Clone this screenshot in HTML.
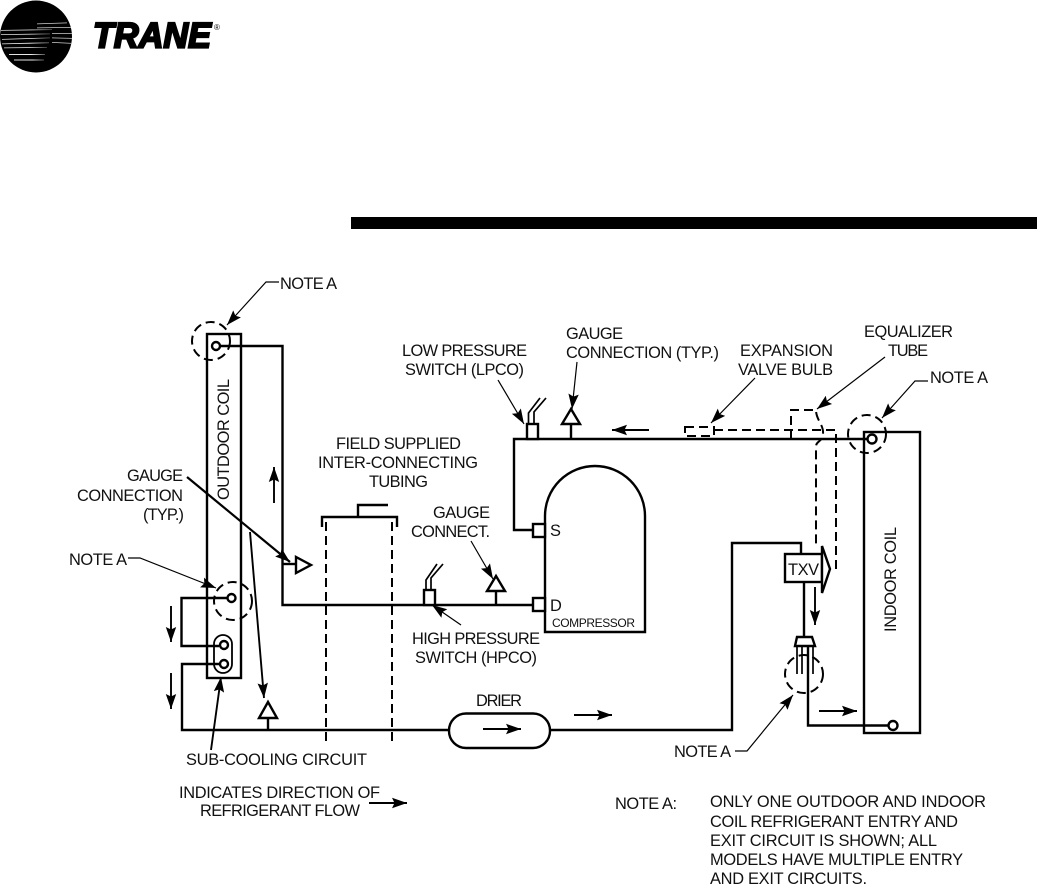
<!DOCTYPE html>
<html><head><meta charset="utf-8"><style>
html,body{margin:0;padding:0;background:#fff}
svg{display:block}
text{font-family:"Liberation Sans",sans-serif;font-size:16.4px;fill:#111}
.m{fill:none;stroke:#000;stroke-width:2.4}
.t{fill:none;stroke:#000;stroke-width:1.7}
.d{fill:none;stroke:#000;stroke-width:2;stroke-dasharray:9 5}
.a{fill:none;stroke:#000;stroke-width:1.9;marker-end:url(#h)}
.l{fill:none;stroke:#000;stroke-width:1.2;marker-end:url(#h)}
.c{fill:#fff;stroke:#000;stroke-width:2.4}
</style></head><body>
<svg width="1037" height="888" viewBox="0 0 1037 888" xmlns="http://www.w3.org/2000/svg">
<defs>
<marker id="h" markerUnits="userSpaceOnUse" markerWidth="18" markerHeight="14" refX="15" refY="7" orient="auto"><path d="M0,1.800 L15,7 L0,12.200 L2.500,7z" fill="#000"/></marker>
<linearGradient id="g" x1="0" x2="1" y1="0" y2="0"><stop offset="0" stop-color="#ddd"/><stop offset=".6" stop-color="#eee"/><stop offset="1" stop-color="#555"/></linearGradient>
</defs>

<!-- logo -->
<circle cx="36" cy="36.500" r="36" fill="#000"/>
<g fill="url(#g)">
<polygon points="1,30 52,29.300 52,30 1,30.700"/>
<polygon points="1,34.300 50,33.500 50,34.200 1,35"/>
<polygon points="2,39 50,37.500 50,38.300 2,39.700"/>
<polygon points="2,43.500 49,42.300 49,43.200 2,44.300"/>
<polygon points="4,47.500 47,47 47,47.800 4,48.300"/>
<polygon points="9,54 45,54 45,55 9,55"/>
<polygon points="14,59.500 44,59.500 44,60.500 14,60.500"/>
</g>
<g fill="#ccc">
<polygon points="37,23.500 67,22.500 67,23.200 37,24.200"/>
<polygon points="37,27.500 71,27 71,27.700 37,28.200"/>
<polygon points="52,33 72,33 72,33.700 52,33.700"/>
<polygon points="52,37.500 72,38 72,38.700 52,38.200"/>
<polygon points="52,42 72,43 72,43.700 52,42.700"/>
</g>
<text x="93" y="47.500" textLength="118" lengthAdjust="spacingAndGlyphs" style="font-size:35px;font-weight:bold;font-style:italic;fill:#000;stroke:#000;stroke-width:2.2">TRANE</text>
<text x="214" y="30" style="font-size:8px;fill:#000">®</text>

<rect x="351" y="217" width="686" height="12" fill="#000"/>

<!-- outdoor coil -->
<rect x="207" y="334" width="34" height="344" class="m"/>
<path class="m" d="M220,346H282.500V605H533"/>
<circle cx="216" cy="346" r="4" class="c"/>
<circle cx="211" cy="341" r="19" class="d" stroke-dasharray="8 5"/>
<path class="m" d="M231,598H181.500V646H219"/>
<path class="m" d="M219,664H182V730H449"/>
<path class="m" d="M550,730H732V543H801V554"/>
<rect x="214" y="635" width="18" height="38" rx="9" class="m" style="stroke-width:1.8"/>
<circle cx="224" cy="645" r="4" class="c"/>
<circle cx="224" cy="664" r="4" class="c"/>
<circle cx="231.500" cy="598" r="4" class="c"/>
<circle cx="233" cy="601" r="19" class="d" stroke-dasharray="8 5"/>

<!-- gauges -->
<path class="m" d="M282.500,564H296"/>
<polygon points="296,557 296,573 311,565" class="c"/>
<path class="m" d="M268,718V730"/>
<polygon points="268,702 259,718 277,718" class="c"/>
<path class="m" d="M496,591V605"/>
<polygon points="496,576 487,591 505,591" class="c"/>
<path class="m" d="M571,424V439"/>
<polygon points="571,409 562,424 580,424" class="c"/>

<!-- tubing bracket -->
<path class="m" d="M322,527V517H397V527M358,517V505H388"/>
<path class="d" d="M326,522V743"/>
<path class="d" d="M392,522V745"/>

<!-- compressor -->
<path class="m" d="M545,516A50,50 0 0 1 645,516V632H545Z"/>
<path class="m" d="M872,439H514V530H533"/>
<rect x="533" y="524" width="12" height="13" class="c"/>
<rect x="533" y="598" width="12" height="13" class="c"/>
<rect x="527" y="424" width="11" height="15" class="c"/>
<rect x="424" y="590" width="11" height="15" class="c"/>
<path class="t" d="M528.500,424V413L540,398M534,424V412L546,398"/>
<path class="t" d="M426,590V580L437,564M431,590V578L443,564"/>

<!-- drier -->
<rect x="449" y="713.500" width="101" height="34.500" rx="17" class="m"/>

<!-- bulb & dashed -->
<rect x="685" y="427" width="29" height="9" class="d" stroke-dasharray="6 3.500"/>
<path class="d" d="M714,430H836V569H831"/>
<path class="d" d="M791,439V410H816C816,420 824,425 823,434C822,443 816,440 816,447V546" stroke-dasharray="9 4.500"/>

<!-- indoor coil -->
<rect x="864" y="432" width="56" height="301" class="m"/>
<circle cx="872" cy="439" r="4.500" class="c"/>
<circle cx="867" cy="434" r="19" class="d" stroke-dasharray="8 5"/>
<path class="m" d="M893,725.500H808V647"/>
<circle cx="893" cy="725.500" r="4.500" class="c"/>

<!-- TXV -->
<rect x="785" y="554" width="37" height="28" class="c"/>
<polygon points="822,546 830,569 822,593" class="c"/>
<path class="m" d="M804,582V637"/>
<polygon points="797,637 812,637 815,646 795,646" class="c"/>
<path class="t" d="M797,646V674M802,646V674M813,646V674"/>
<circle cx="804" cy="674" r="19" class="d" stroke-dasharray="8 5"/>

<!-- pointer arrows -->
<path class="l" d="M279,282H266L227,325"/>
<path class="l" d="M128,558H140L216,588"/>
<path class="a" d="M187,477L290,562" style="stroke-width:2.200"/>
<path class="a" d="M250,532L264,698"/>
<path class="a" d="M211,750L221,677"/>
<path class="a" d="M171,606V642"/>
<path class="a" d="M171,673V709"/>
<path class="a" d="M274,503V467"/>
<path class="a" d="M369,803H407"/>
<path class="l" d="M577,362L572,409"/>
<path class="l" d="M498,380L524,424"/>
<path class="a" d="M649,430H612"/>
<path class="l" d="M471,541L493,579"/>
<path class="l" d="M461,625L432,605"/>
<path class="a" d="M483,729H521"/>
<path class="a" d="M574,715H612"/>
<path class="l" d="M755,378L711,423"/>
<path class="l" d="M885,357L817,409"/>
<path class="l" d="M928,381H915L882,418"/>
<path class="a" d="M815,587V625"/>
<path class="a" d="M819,711H857"/>
<path class="l" d="M735,751H747L793,695"/>

<!-- labels -->
<text x="280" y="289" textLength="57">NOTE A</text>
<text x="930" y="383" textLength="58">NOTE A</text>
<text x="69" y="565" textLength="58">NOTE A</text>
<text x="674" y="757" textLength="57">NOTE A</text>
<text x="127" y="481" textLength="56">GAUGE</text>
<text x="77" y="501" textLength="106">CONNECTION</text>
<text x="143" y="520" textLength="41">(TYP.)</text>
<text transform="translate(229,500) rotate(-90)" textLength="121">OUTDOOR COIL</text>
<text transform="translate(896,632) rotate(-90)" textLength="105">INDOOR COIL</text>
<text x="186" y="765" textLength="181">SUB-COOLING CIRCUIT</text>
<text x="179" y="798" textLength="201">INDICATES DIRECTION OF</text>
<text x="200" y="816" textLength="160">REFRIGERANT FLOW</text>
<text x="336" y="449" textLength="125">FIELD SUPPLIED</text>
<text x="318" y="468" textLength="160">INTER-CONNECTING</text>
<text x="369" y="487" textLength="59">TUBING</text>
<text x="402" y="356" textLength="125">LOW PRESSURE</text>
<text x="405" y="375" textLength="119">SWITCH (LPCO)</text>
<text x="566" y="339" textLength="57">GAUGE</text>
<text x="566" y="358" textLength="153">CONNECTION (TYP.)</text>
<text x="433" y="518" textLength="57">GAUGE</text>
<text x="411" y="537" textLength="79">CONNECT.</text>
<text x="412" y="644" textLength="128">HIGH PRESSURE</text>
<text x="415" y="663" textLength="122">SWITCH (HPCO)</text>
<text x="550" y="536" textLength="9">S</text>
<text x="550" y="611" textLength="10">D</text>
<text x="552" y="627" textLength="83" style="font-size:12px">COMPRESSOR</text>
<text x="740" y="356" textLength="93">EXPANSION</text>
<text x="738" y="375" textLength="95">VALVE BULB</text>
<text x="864" y="337" textLength="89">EQUALIZER</text>
<text x="888" y="356" textLength="40">TUBE</text>
<text x="788" y="575" textLength="31">TXV</text>
<text x="476" y="706" textLength="46">DRIER</text>
<text x="615" y="809" textLength="62">NOTE A:</text>
<text x="710" y="807" textLength="276">ONLY ONE OUTDOOR AND INDOOR</text>
<text x="710" y="827" textLength="248">COIL REFRIGERANT ENTRY AND</text>
<text x="710" y="846" textLength="227">EXIT CIRCUIT IS SHOWN; ALL</text>
<text x="710" y="865" textLength="253">MODELS HAVE MULTIPLE ENTRY</text>
<text x="710" y="884" textLength="157">AND EXIT CIRCUITS.</text>
</svg>
</body></html>
